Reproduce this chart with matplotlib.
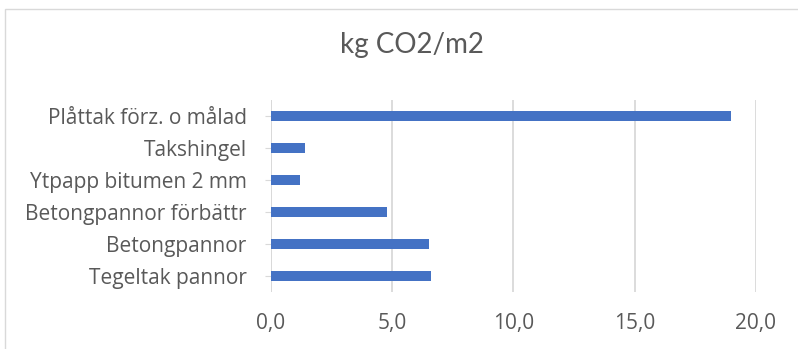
import matplotlib.pyplot as plt
from matplotlib.patches import Rectangle
from matplotlib.ticker import FuncFormatter

categories = ["Tegeltak pannor", "Betongpannor", "Betongpannor förbättr",
              "Ytpapp bitumen 2 mm", "Takshingel", "Plåttak förz. o målad"]
values = [6.6, 6.5, 4.8, 1.2, 1.4, 19.0]
title = "kg CO2/m2"

plt.rcParams['font.family'] = ['Open Sans', 'DejaVu Sans']
text_color = "#595959"
grid_color = "#d9d9d9"
bar_color = "#4472c4"

fig = plt.figure(figsize=(7.98, 3.49), dpi=100)
ax = fig.add_axes([271 / 798, 1 - 292 / 349, (755.7 - 271) / 798, 192 / 349])

ax.barh(range(len(categories)), values, height=0.34, color=bar_color, zorder=3)
ax.set_xlim(0, 20)
ax.set_ylim(-0.5, len(categories) - 0.5)
ax.set_xticks([0, 5, 10, 15, 20])
ax.xaxis.set_major_formatter(FuncFormatter(lambda v, p: f"{v:.1f}".replace(".", ",")))
ax.set_yticks(range(len(categories)))
ax.set_yticklabels(categories)

ax.grid(axis="x", color=grid_color, linewidth=1.3, zorder=0)
for s in ax.spines.values():
    s.set_visible(False)
ax.tick_params(axis="x", length=0, pad=15, labelsize=15, labelcolor=text_color)
ax.tick_params(axis="y", length=4, color=grid_color, pad=13.5, labelsize=15,
               labelcolor=text_color)
ax.axvline(0, color=grid_color, linewidth=1.3, zorder=1)

fig.text(412 / 798, 1 - 45 / 349, title, ha="center", va="center",
         fontsize=20, color=text_color, family=['Lato', 'DejaVu Sans'])

# chart frame
fig.patches.append(Rectangle((5 / 798, -0.1), 1.2, 1 - 9 / 349 + 0.1,
                             transform=fig.transFigure, fill=False,
                             edgecolor="#d9d9d9", linewidth=1))

fig.savefig("out.png", dpi=100)
